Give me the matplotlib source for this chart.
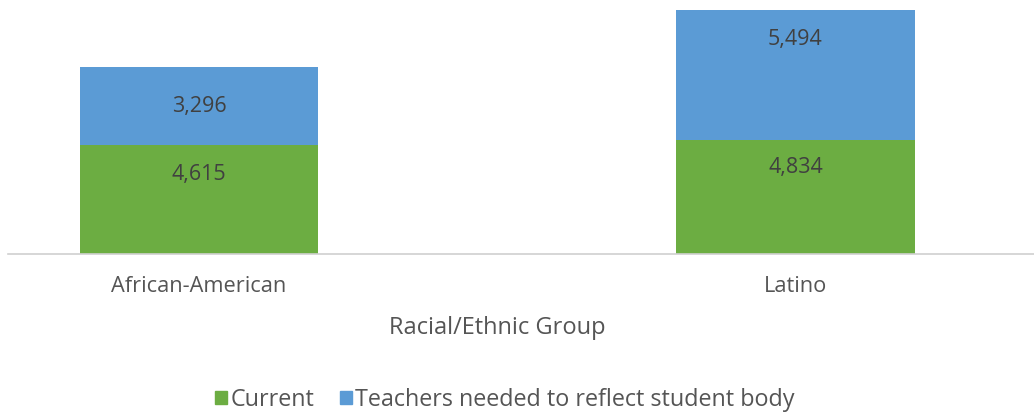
import matplotlib
matplotlib.use("Agg")
import matplotlib.pyplot as plt
from matplotlib.patches import Patch

categories = ["African-American", "Latino"]
current = [4615, 4834]
needed = [3296, 5494]
series_names = ["Current", "Teachers needed to reflect student body"]

GREEN = "#6cad42"
BLUE = "#5b9bd5"
TEXT = "#555555"

plt.rcParams['font.family'] = ['Open Sans', 'DejaVu Sans']

fig = plt.figure(figsize=(10.34, 4.13), dpi=100)
W, H = 1034, 413
ax = fig.add_axes([8 / W, 1 - 254 / H, (1034 - 8) / W, 254 / H])

x = list(range(len(categories)))
b1 = ax.bar(x, current, width=0.4, color=GREEN, zorder=2)
b2 = ax.bar(x, needed, width=0.4, bottom=current, color=BLUE, zorder=2)

ax.set_xlim(-0.32, 1.40)
ax.set_ylim(0, 10760)

# value labels, offsets (points) below the top of each segment
green_off = [-21, -20]
blue_off = [-28, -21]
for i in x:
    ax.annotate(f"{current[i]:,}", (i, current[i]), xytext=(0, green_off[i]),
                textcoords="offset points", ha="center", va="center",
                fontsize=15.5, color="#404040")
    ax.annotate(f"{needed[i]:,}", (i, current[i] + needed[i]), xytext=(0, blue_off[i]),
                textcoords="offset points", ha="center", va="center",
                fontsize=15.5, color="#404040")

for s in ["top", "right", "left"]:
    ax.spines[s].set_visible(False)
ax.spines["bottom"].set_color("#d0d0d0")
ax.spines["bottom"].set_linewidth(1.2)
ax.set_yticks([])
ax.set_xticks(x)
ax.set_xticklabels(categories, fontsize=15.7, color=TEXT)
ax.tick_params(axis="x", length=0, pad=16)

fig.text(497 / W, 1 - 328 / H, "Racial/Ethnic Group", ha="center", va="center",
         fontsize=17, color=TEXT)

handles = [Patch(color=GREEN), Patch(color=BLUE)]
fig.legend(handles, series_names, loc="center", bbox_to_anchor=(505 / W, 1 - 400 / H),
           ncol=2, frameon=False, fontsize=16.8, handlelength=0.5, handleheight=0.5,
           handletextpad=0.15, columnspacing=1.1, labelcolor=TEXT)

fig.savefig("out.png", dpi=100, facecolor="white")
